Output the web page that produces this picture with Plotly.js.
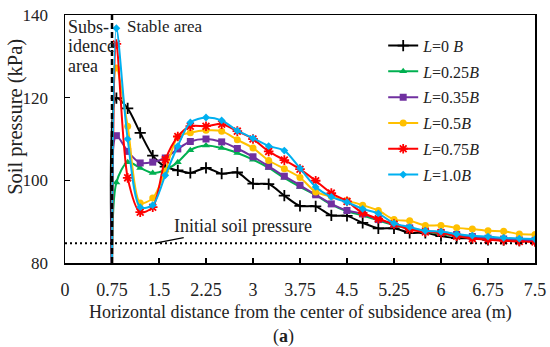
<!DOCTYPE html>
<html>
<head>
<meta charset="utf-8">
<script src="https://cdn.plot.ly/plotly-3.0.1.min.js"></script>
<style>
html,body{margin:0;padding:0;background:#fff;}
#chart{width:550px;height:347px;}
</style>
</head>
<body>
<div id="chart"></div>
<script>
// Horizontal distance from the center of subsidence area (m)
const distance = [0.75, 0.82, 1.0, 1.2, 1.4, 1.6, 1.8, 2.0, 2.25, 2.5, 2.75, 3.0, 3.25, 3.5, 3.75, 4.0, 4.25, 4.5, 4.75, 5.0, 5.25, 5.5, 5.75, 6.0, 6.25, 6.5, 6.75, 7.0, 7.25, 7.5];

// Soil pressure (kPa) for each L
const L0B   = [76, 119.9, 117.4, 111.5, 106.0, 103.3, 102.4, 101.8, 103.0, 101.6, 101.9, 99.2, 99.1, 96.3, 93.8, 93.7, 91.5, 91.4, 89.7, 88.4, 88.4, 87.3, 87.3, 86.5, 86.0, 86.0, 85.6, 85.6, 85.4, 85.4];
const L025B = [76, 99.5, 104.4, 103.0, 101.8, 102.5, 104.4, 107.3, 108.4, 107.8, 106.6, 105.0, 103.0, 100.6, 98.4, 96.4, 94.1, 92.5, 91.5, 90.3, 89.2, 88.3, 87.6, 87.0, 86.6, 86.2, 85.8, 85.6, 85.4, 85.3];
const L035B = [76, 110.8, 107.0, 104.2, 104.4, 105.4, 107.6, 109.4, 110.0, 109.3, 107.7, 105.7, 103.4, 101.0, 98.8, 96.5, 94.3, 92.7, 91.9, 90.5, 89.4, 88.5, 87.8, 87.4, 86.9, 86.4, 86.0, 85.8, 85.6, 85.5];
const L05B  = [76, 127.2, 113.1, 94.5, 95.7, 102.2, 110.5, 111.5, 112.1, 111.9, 109.8, 107.8, 104.8, 102.8, 100.7, 97.2, 96.1, 95.1, 94.0, 92.7, 90.5, 90.2, 89.1, 89.1, 88.5, 88.2, 87.8, 87.7, 87.0, 86.9];
const L075B = [76, 133.0, 100.6, 92.3, 93.5, 105.0, 110.6, 113.1, 113.1, 113.6, 111.9, 110.0, 107.0, 104.9, 102.7, 99.9, 96.9, 94.9, 92.1, 90.7, 89.4, 88.1, 87.5, 87.3, 86.5, 85.9, 85.6, 85.4, 85.2, 85.1];
const L10B  = [76, 136.8, 110.0, 93.5, 94.0, 101.2, 108.3, 114.0, 115.2, 114.5, 112.0, 110.2, 108.3, 107.2, 102.9, 98.4, 96.0, 94.7, 93.1, 92.0, 89.6, 88.7, 87.8, 87.6, 87.0, 86.6, 86.4, 86.1, 85.9, 85.8];

const seriesNames = ['<i>L</i>=0 <i>B</i>', '<i>L</i>=0.25<i>B</i>', '<i>L</i>=0.35<i>B</i>', '<i>L</i>=0.5<i>B</i>', '<i>L</i>=0.75<i>B</i>', '<i>L</i>=1.0<i>B</i>'];
const seriesValues = [L0B, L025B, L035B, L05B, L075B, L10B];

const initialPressure = 84.8;
const boundaryX = 0.75;
const xTicks = [0, 0.75, 1.5, 2.25, 3, 3.75, 4.5, 5.25, 6, 6.75, 7.5];
const xTickText = ['0', '0.75', '1.5', '2.25', '3', '3.75', '4.5', '5.25', '6', '6.75', '7.5'];
const yTicks = [80, 100, 120, 140];

const colors = ['#000000', '#00b050', '#7030a0', '#ffc000', '#ff0000', '#00b0f0'];
const symbols = ['cross-thin', 'triangle-up', 'square', 'circle', 'asterisk', 'diamond'];
const sizes = [8, 7, 7, 7, 8, 6];

const FONT = 'Liberation Serif, Times New Roman, serif';
const TXT = '#222';

const traces = seriesValues.map((vals, i) => ({
  x: distance,
  y: vals,
  name: seriesNames[i],
  type: 'scatter',
  mode: 'lines+markers',
  legendgroup: 'g' + i,
  line: {color: colors[i], width: 2, shape: 'spline', smoothing: 0.8},
  marker: {
    symbol: symbols[i], size: sizes[i], color: colors[i],
    line: {color: colors[i], width: (symbols[i].indexOf('thin') >= 0 || symbols[i] === 'asterisk') ? 1.8 : 0}
  }
}));

const layout = {
  width: 550, height: 347,
  margin: {l: 65, r: 15, t: 15, b: 84},
  paper_bgcolor: '#ffffff',
  plot_bgcolor: '#ffffff',
  font: {family: FONT, size: 18, color: TXT},
  showlegend: true,
  legend: {
    x: 0.677, y: 0.945, xanchor: 'left', yanchor: 'top',
    bgcolor: 'rgba(0,0,0,0)', borderwidth: 0,
    font: {family: FONT, size: 16, color: TXT},
    tracegroupgap: 2
  },
  xaxis: {
    range: [0, 7.5],
    tickvals: xTicks, ticktext: xTickText,
    ticks: 'inside', ticklen: 5, tickwidth: 1.5, tickcolor: '#000',
    showline: true, linecolor: '#000', linewidth: 1.5, mirror: true,
    showgrid: false, zeroline: false,
    ticklabelstandoff: 10,
    tickfont: {family: FONT, size: 18, color: TXT}
  },
  yaxis: {
    range: [80, 140],
    tickvals: yTicks,
    ticks: 'inside', ticklen: 5, tickwidth: 1.5, tickcolor: '#000',
    showline: true, linecolor: '#000', linewidth: 1.5, mirror: true,
    showgrid: false, zeroline: false,
    ticklabelstandoff: 12,
    tickfont: {family: FONT, size: 17, color: TXT}
  },
  shapes: [
    {type: 'line', xref: 'x', yref: 'y', x0: boundaryX, x1: boundaryX, y0: 80, y1: 140,
     line: {color: '#000', width: 2.5, dash: '6px,3px'}},
    {type: 'line', xref: 'x', yref: 'y', x0: 0, x1: 7.5, y0: initialPressure, y1: initialPressure,
     line: {color: '#000', width: 2, dash: '2px,3px'}}
  ],
  annotations: [
    {xref: 'paper', yref: 'paper', x: 0.002, y: 0.953, xanchor: 'left', yanchor: 'middle',
     text: 'Subs-', showarrow: false, font: {family: FONT, size: 18, color: TXT}},
    {xref: 'paper', yref: 'paper', x: 0.002, y: 0.875, xanchor: 'left', yanchor: 'middle',
     text: 'idence', showarrow: false, font: {family: FONT, size: 18, color: TXT}},
    {xref: 'paper', yref: 'paper', x: 0.002, y: 0.795, xanchor: 'left', yanchor: 'middle',
     text: 'area', showarrow: false, font: {family: FONT, size: 18, color: TXT}},
    {xref: 'x', yref: 'paper', x: 0.96, y: 0.953, xanchor: 'left', yanchor: 'middle',
     text: 'Stable area', showarrow: false, font: {family: FONT, size: 17, color: TXT}},
    {xref: 'x', yref: 'y', x: 1.44, y: initialPressure, ax: 88, ay: -17,
     text: 'Initial soil pressure', showarrow: true, arrowhead: 0, arrowwidth: 1.2, arrowcolor: '#000',
     font: {family: FONT, size: 18, color: TXT}},
    {xref: 'paper', yref: 'paper', x: 0.5, y: -0.2, xanchor: 'center', yanchor: 'middle',
     text: 'Horizontal distance from the center of subsidence area (m)', showarrow: false,
     font: {family: FONT, size: 18, color: TXT}},
    {xref: 'paper', yref: 'paper', x: 0.465, y: -0.295, xanchor: 'center', yanchor: 'middle',
     text: '(<b>a</b>)', showarrow: false, font: {family: FONT, size: 18, color: TXT}},
    {xref: 'paper', yref: 'paper', x: -0.106, y: 0.59, xanchor: 'center', yanchor: 'middle',
     text: 'Soil pressure (kPa)', textangle: -90, showarrow: false,
     font: {family: FONT, size: 20.5, color: TXT}}
  ]
};

Plotly.newPlot('chart', traces, layout, {displayModeBar: false, staticPlot: true});
</script>
</body>
</html>
